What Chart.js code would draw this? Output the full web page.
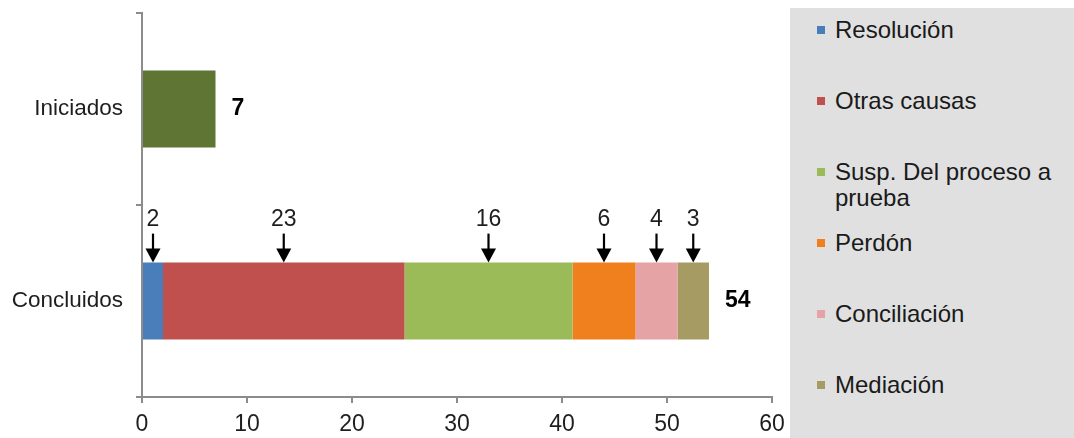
<!DOCTYPE html>
<html>
<head>
<meta charset="utf-8">
<script src="https://cdn.jsdelivr.net/npm/chart.js@4.4.0/dist/chart.umd.min.js"></script>
<style>
  html, body { margin: 0; padding: 0; background: #ffffff; }
  #wrap { position: relative; width: 1074px; height: 438px; overflow: hidden; background: #fff; }
  #chartBox { position: absolute; left: 0; top: 0; width: 800px; height: 438px; }
  #legend { position: absolute; left: 790px; top: 8px; width: 284px; height: 430px; background: #e0e0e0; }
  .item { position: absolute; left: 27px; width: 250px; font-family: "Liberation Sans", Arial, sans-serif; font-size: 24px; line-height: 26px; color: #1a1a1a; }
  .item .sw { position: absolute; left: 0; top: 9px; width: 8px; height: 8px; }
  .item .tx { display: block; margin-left: 18px; }
</style>
</head>
<body>
<div id="wrap">
  <div id="chartBox"><canvas id="c" width="800" height="438"></canvas></div>
  <div id="legend"></div>
</div>
<script>
// ---- data ----
const categories = ['Iniciados', 'Concluidos'];
const causes = ['Resolución', 'Otras causas', 'Susp. Del proceso a prueba', 'Perdón', 'Conciliación', 'Mediación'];
const concluidosValues = [2, 23, 16, 6, 4, 3];
const iniciadosValues = [7, 0];
const xTicks = [0, 10, 20, 30, 40, 50, 60];

// ---- styles ----
const causeColors = ['#4a7ebb', '#c0504d', '#9bbb59', '#f0801e', '#e6a3a5', '#a69b62'];
const iniciadosColor = '#5f7534';
const axisColor = '#8c8c8c';
const textColor = '#1e1e1e';
const fontFamily = '"Liberation Sans", Arial, sans-serif';

const datasets = [{
  label: 'Iniciados',
  data: iniciadosValues,
  backgroundColor: iniciadosColor,
  showArrow: false
}];
causes.forEach((name, i) => {
  datasets.push({
    label: name,
    data: [0, concluidosValues[i]],
    backgroundColor: causeColors[i],
    showArrow: true
  });
});

const labelPlugin = {
  id: 'labelPlugin',
  afterDatasetsDraw(chart) {
    const ctx = chart.ctx;
    ctx.save();
    // arrows + segment values
    chart.data.datasets.forEach((ds, di) => {
      if (!ds.showArrow) return;
      const meta = chart.getDatasetMeta(di);
      meta.data.forEach((el, idx) => {
        const v = ds.data[idx];
        if (!v) return;
        const p = el.getProps(['x', 'y', 'base', 'height'], true);
        const cx = (p.x + p.base) / 2;
        const top = p.y - p.height / 2;
        ctx.strokeStyle = '#000';
        ctx.fillStyle = '#000';
        ctx.lineWidth = 2.2;
        ctx.beginPath();
        ctx.moveTo(cx, top - 29);
        ctx.lineTo(cx, top - 13);
        ctx.stroke();
        ctx.beginPath();
        ctx.moveTo(cx - 7.5, top - 14);
        ctx.lineTo(cx + 7.5, top - 14);
        ctx.lineTo(cx, top);
        ctx.closePath();
        ctx.fill();
        ctx.fillStyle = textColor;
        ctx.font = '23px ' + fontFamily;
        ctx.textAlign = 'center';
        ctx.textBaseline = 'middle';
        ctx.fillText(String(v), cx, top - 43);
      });
    });
    // totals
    categories.forEach((cat, idx) => {
      let maxX = null, y = null, total = 0;
      chart.data.datasets.forEach((ds, di) => {
        const v = ds.data[idx];
        if (!v) return;
        total += v;
        const el = chart.getDatasetMeta(di).data[idx];
        if (maxX === null || el.x > maxX) { maxX = el.x; y = el.y; }
      });
      if (maxX === null) return;
      ctx.fillStyle = '#000';
      ctx.font = 'bold 23px ' + fontFamily;
      ctx.textAlign = 'left';
      ctx.textBaseline = 'middle';
      ctx.fillText(String(total), maxX + 16, y);
    });
    ctx.restore();
  }
};

new Chart(document.getElementById('c'), {
  type: 'bar',
  data: { labels: categories, datasets },
  options: {
    indexAxis: 'y',
    responsive: false,
    animation: false,
    layout: { padding: { top: 13, right: 28, left: 0, bottom: 0 } },
    plugins: { legend: { display: false }, tooltip: { enabled: false } },
    datasets: { bar: { categoryPercentage: 0.8, barPercentage: 0.5, borderWidth: 0 } },
    scales: {
      x: {
        stacked: true,
        min: xTicks[0],
        max: xTicks[xTicks.length - 1],
        afterBuildTicks: (scale) => { scale.ticks = xTicks.map(v => ({ value: v })); },
        afterFit: (scale) => { scale.height = 41; },
        grid: { drawOnChartArea: false, drawTicks: true, tickLength: 6, color: axisColor, lineWidth: 2 },
        border: { display: true, color: axisColor, width: 2 },
        ticks: { color: textColor, font: { family: fontFamily, size: 23 }, padding: 8, maxRotation: 0 }
      },
      y: {
        stacked: true,
        afterFit: (scale) => { scale.width = 142; scale.paddingTop = 0; scale.paddingBottom = 0; },
        grid: { drawOnChartArea: false, drawTicks: true, tickLength: 6, color: axisColor, lineWidth: 2, offset: true },
        border: { display: true, color: axisColor, width: 2 },
        ticks: { color: textColor, font: { family: fontFamily, size: 22.5 }, padding: 13 }
      }
    }
  },
  plugins: [labelPlugin]
});

// ---- HTML legend built from the series ----
const legend = document.getElementById('legend');
causes.forEach((name, i) => {
  const it = document.createElement('div');
  it.className = 'item';
  it.style.top = (9 + 71 * i) + 'px';
  const sw = document.createElement('span');
  sw.className = 'sw';
  sw.style.background = causeColors[i];
  const tx = document.createElement('span');
  tx.className = 'tx';
  tx.textContent = name;
  it.appendChild(sw);
  it.appendChild(tx);
  legend.appendChild(it);
});
</script>
</body>
</html>
